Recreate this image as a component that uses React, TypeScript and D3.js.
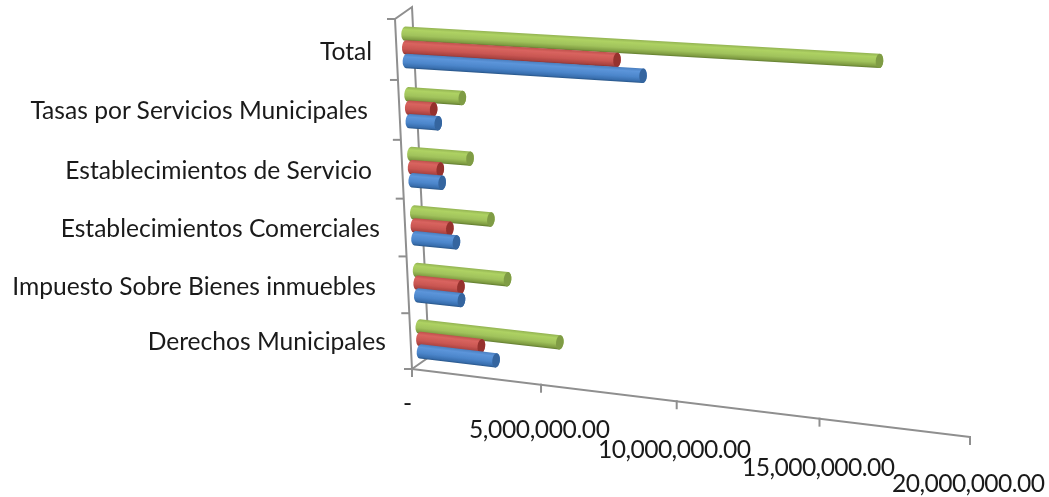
import React from "react";
import * as d3 from "d3";

const categories = ["Derechos Municipales", "Impuesto Sobre Bienes inmuebles", "Establecimientos Comerciales", "Establecimientos de Servicio", "Tasas por Servicios Municipales", "Total"];
const labelRight = [386, 376, 380, 372, 368, 372];
const labelBaseline = [350, 295, 237, 179, 119, 60];

const blueValues = [2950000, 1700000, 1600000, 1150000, 1100000, 8600000];
const redValues = [2400000, 1700000, 1370000, 1100000, 950000, 7700000];
const greenValues = [5400000, 3500000, 2950000, 2250000, 2050000, 16450000];

const seriesList = [
  { id: "green", values: greenValues, offset: 0.224, cap: "#7f9c44", stops: ["#93b352", "#aed263", "#a0c25b", "#7f9c42", "#5f7a2e"] },
  { id: "red", values: redValues, offset: 0, cap: "#96322f", stops: ["#c0504d", "#d9645f", "#c95652", "#a84240", "#822f2d"] },
  { id: "blue", values: blueValues, offset: -0.224, cap: "#34659f", stops: ["#4a7fc0", "#5c95da", "#4c86cb", "#386eae", "#285587"] },
];

const tickValues = [0, 5000000, 10000000, 15000000, 20000000];
const tickLabels = ["-", "5,000,000.00", "10,000,000.00", "15,000,000.00", "20,000,000.00"];
const tickLabelX = [403, 469, 598, 742, 892];
const tickLabelBaseline = [412, 438, 458, 476, 492];
const tickLabelWidth = [7, 141, 153, 153, 153];

type Pt = [number, number];

// Projective map from the unit square onto the chart's front plane
function squareToQuad(p00: Pt, p10: Pt, p11: Pt, p01: Pt) {
  const dx1 = p10[0] - p11[0], dx2 = p01[0] - p11[0], sx = p00[0] - p10[0] + p11[0] - p01[0];
  const dy1 = p10[1] - p11[1], dy2 = p01[1] - p11[1], sy = p00[1] - p10[1] + p11[1] - p01[1];
  const det = dx1 * dy2 - dx2 * dy1;
  const g = (sx * dy2 - dx2 * sy) / det;
  const h = (dx1 * sy - sx * dy1) / det;
  const a = p10[0] - p00[0] + g * p10[0], b = p01[0] - p00[0] + h * p01[0], c = p00[0];
  const d = p10[1] - p00[1] + g * p10[1], e = p01[1] - p00[1] + h * p01[1], f = p00[1];
  return (u: number, w: number): Pt => {
    const k = g * u + h * w + 1;
    return [(a * u + b * w + c) / k, (d * u + e * w + f) / k];
  };
}

const frontPlane = squareToQuad([412, 369], [970, 437], [985, 51], [395, 19]);
const depthShift: Pt = [17, -12];
const project = (u: number, w: number, depth = 0): Pt => {
  const [x, y] = frontPlane(u, w);
  return [x + depth * depthShift[0], y + depth * depthShift[1]];
};

const uScale = d3.scaleLinear().domain([0, 20000000]).range([0, 1]);
const wBand = d3.scaleBand<number>().domain(d3.range(categories.length)).range([0, 1]);
const barDepth = 0.4;
const barNudge: Pt = [2.5, 2.5];
const radius = 7.2;
const capRx = 3.8;

function barShape(value: number, catIndex: number, offset: number) {
  const band = wBand.bandwidth();
  const w = (wBand(catIndex) as number) + band * (0.5 + offset);
  const s0 = project(0, w, barDepth);
  const e0 = project(uScale(value), w, barDepth);
  const s: Pt = [s0[0] + barNudge[0], s0[1] + barNudge[1]];
  const e: Pt = [e0[0] + barNudge[0], e0[1] + barNudge[1]];
  const len = Math.hypot(e[0] - s[0], e[1] - s[1]);
  const nx = -(e[1] - s[1]) / len, ny = (e[0] - s[0]) / len;
  const angle = (Math.atan2(e[1] - s[1], e[0] - s[0]) * 180) / Math.PI;
  const t0: Pt = [s[0] - nx * radius, s[1] - ny * radius];
  const t1: Pt = [e[0] - nx * radius, e[1] - ny * radius];
  const b1: Pt = [e[0] + nx * radius, e[1] + ny * radius];
  const b0: Pt = [s[0] + nx * radius, s[1] + ny * radius];
  const arc = `A${capRx} ${radius} ${angle} 0 `;
  const body = `M${t0}L${t1}${arc}1 ${b1}L${b0}${arc}1 ${t0}Z`;
  return { s, e, t0, b0, angle, body };
}

const axisColor = "#8f8f8f";
const labelFont = "Lato, Carlito, 'Open Sans', sans-serif";

export default function App() {
  const line = d3.line();
  const catEdges = d3.range(categories.length + 1).map((i) => i / categories.length);
  return (
    <svg width={1049} height={497} style={{ position: "absolute", left: 0, top: 0, background: "#fff" }}>
      <defs>
        <filter id="soft" x="-5%" y="-30%" width="110%" height="160%">
          <feGaussianBlur stdDeviation="0.45" />
        </filter>
      </defs>
      <g fill="none" stroke={axisColor} strokeWidth={2}>
        <path d={line([project(0, 0), project(0, 1), project(0, 1, 1), project(0, 0, 1), project(0, 0)]) as string} />
        <path d={line([project(0, 0), project(1, 0)]) as string} />
        {catEdges.map((w) => {
          const p = project(0, w);
          return <path key={w} d={line([p, [p[0] - 8, p[1]]]) as string} />;
        })}
        {tickValues.map((v) => {
          const p = project(uScale(v), 0);
          return <path key={v} d={line([[p[0], p[1] - 1], [p[0], p[1] + 8]]) as string} />;
        })}
      </g>
      <g filter="url(#soft)">
        {d3.range(categories.length).reverse().map((i) =>
          seriesList.map((sr) => {
            const b = barShape(sr.values[i], i, sr.offset);
            const gid = `g-${sr.id}-${i}`;
            return (
              <g key={gid}>
                <linearGradient id={gid} gradientUnits="userSpaceOnUse" x1={b.t0[0]} y1={b.t0[1]} x2={b.b0[0]} y2={b.b0[1]}>
                  {sr.stops.map((c, k) => (
                    <stop key={k} offset={[0, 0.22, 0.6, 0.88, 1][k]} stopColor={c} />
                  ))}
                </linearGradient>
                <path d={b.body} fill={`url(#${gid})`} />
                <ellipse
                  cx={b.e[0]}
                  cy={b.e[1]}
                  rx={capRx}
                  ry={radius}
                  fill={sr.cap}
                  transform={`rotate(${b.angle} ${b.e[0]} ${b.e[1]})`}
                />
              </g>
            );
          })
        )}
      </g>
      <g fontFamily={labelFont} fontSize={24.6} fill="#1a1a1a">
        {categories.map((c, i) => (
          <text key={c} x={labelRight[i]} y={labelBaseline[i]} textAnchor="end">{c}</text>
        ))}
        {tickLabels.map((t, i) => (
          <text key={t} x={tickLabelX[i]} y={tickLabelBaseline[i]} textLength={tickLabelWidth[i]} lengthAdjust="spacing">{t}</text>
        ))}
      </g>
    </svg>
  );
}
